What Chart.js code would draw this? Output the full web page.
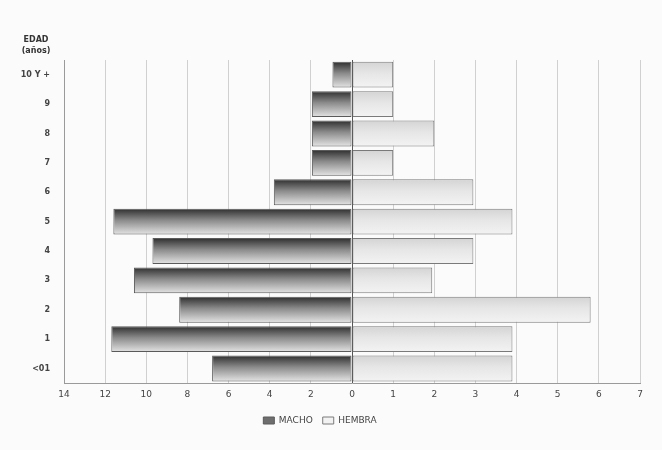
<!DOCTYPE html>
<html lang="es">
<head>
    <meta charset="UTF-8">
    <title>Pirámide de edad</title>
    <script src="https://cdn.jsdelivr.net/npm/chart.js"></script>
    <style>
        body, html {
            margin: 0;
            padding: 0;
            background: #fbfbfb;
        }
        #chart-container {
            width: 662px;
            height: 450px;
        }
    </style>
</head>
<body>

<div id="chart-container">
    <canvas id="piramide"></canvas>
</div>

<script>
    // edades de arriba hacia abajo
    const edades = ['10 Y +', '9', '8', '7', '6', '5', '4', '3', '2', '1', '<01'];
    const macho  = [0.95, 1.95, 1.95, 1.95, 3.8, 11.6, 9.7, 10.6, 8.4, 11.7, 6.8];
    const hembra = [1, 1, 2, 1, 2.95, 3.9, 2.95, 1.95, 5.8, 3.9, 3.9];
    // el lado izquierdo va de 0 a 14, el derecho de 0 a 7
    const escalaMacho = 2;
    const ticksX = [-7, -6, -5, -4, -3, -2, -1, 0, 1, 2, 3, 4, 5, 6, 7];

    // degradado por fila: oscuro arriba, claro abajo
    function degradado(ctx, area, n, arriba, medio, abajo) {
        const g = ctx.createLinearGradient(0, area.top, 0, area.bottom);
        for (let i = 0; i < n; i++) {
            g.addColorStop((i + 0.06) / n, arriba);
            g.addColorStop((i + 0.45) / n, medio);
            g.addColorStop((i + 0.94) / n, abajo);
        }
        return g;
    }

    const tituloEdad = {
        id: 'tituloEdad',
        afterDraw(chart) {
            const { ctx, chartArea } = chart;
            ctx.save();
            ctx.fillStyle = '#333';
            ctx.font = 'bold 8px "DejaVu Sans"';
            ctx.textAlign = 'center';
            ctx.fillText('EDAD', chartArea.left - 28, chartArea.top - 20);
            ctx.fillText('(años)', chartArea.left - 28, chartArea.top - 9);
            ctx.restore();
        }
    };

    const ctx = document.getElementById('piramide').getContext('2d');
    new Chart(ctx, {
        type: 'bar',
        data: {
            labels: edades,
            datasets: [{
                label: 'MACHO',
                data: macho.map(v => -v / escalaMacho),
                backgroundColor: c => {
                    const a = c.chart.chartArea;
                    if (!a) return '#666';
                    return degradado(c.chart.ctx, a, edades.length, '#2e2e2e', '#8a8a8a', '#e4e4e4');
                },
                borderColor: '#5a5a5a',
                borderWidth: 1,
                borderSkipped: false
            }, {
                label: 'HEMBRA',
                data: hembra,
                backgroundColor: c => {
                    const a = c.chart.chartArea;
                    if (!a) return '#e8e8e8';
                    return degradado(c.chart.ctx, a, edades.length, '#d4d4d4', '#e6e6e6', '#f3f3f3');
                },
                borderColor: '#7a7a7a',
                borderWidth: 1,
                borderSkipped: false
            }]
        },
        options: {
            indexAxis: 'y',
            responsive: true,
            maintainAspectRatio: false,
            animation: false,
            layout: { padding: { top: 60, right: 22, bottom: 15, left: 0 } },
            scales: {
                x: {
                    min: -7,
                    max: 7,
                    stacked: true,
                    afterBuildTicks: s => { s.ticks = ticksX.map(v => ({ value: v })); },
                    ticks: {
                        color: '#444',
                        font: { family: 'DejaVu Sans', size: 9 },
                        padding: 6,
                        callback: v => v < 0 ? String(-v * escalaMacho) : String(v)
                    },
                    grid: {
                        color: c => c.tick && c.tick.value === 0 ? '#555' : '#d0d0d0',
                        drawTicks: false
                    },
                    border: { color: '#9a9a9a' }
                },
                y: {
                    stacked: true,
                    afterFit: s => { s.width = 64; },
                    ticks: {
                        color: '#444',
                        font: { family: 'DejaVu Sans', size: 8, weight: 'bold' },
                        padding: 14
                    },
                    grid: { display: false, drawTicks: false },
                    border: { color: '#9a9a9a' }
                }
            },
            datasets: { bar: { categoryPercentage: 1, barPercentage: 0.88 } },
            plugins: {
                legend: {
                    display: true,
                    position: 'bottom',
                    labels: {
                        color: '#444',
                        font: { family: 'DejaVu Sans', size: 9 },
                        boxWidth: 11,
                        boxHeight: 7,
                        padding: 10,
                        generateLabels: chart => {
                            const items = Chart.defaults.plugins.legend.labels.generateLabels(chart);
                            const rellenos = ['#6e6e6e', '#f2f2f2'];
                            items.forEach((it, i) => { it.fillStyle = rellenos[i]; });
                            return items;
                        }
                    }
                },
                tooltip: { enabled: false }
            }
        },
        plugins: [tituloEdad]
    });
</script>

</body>
</html>
